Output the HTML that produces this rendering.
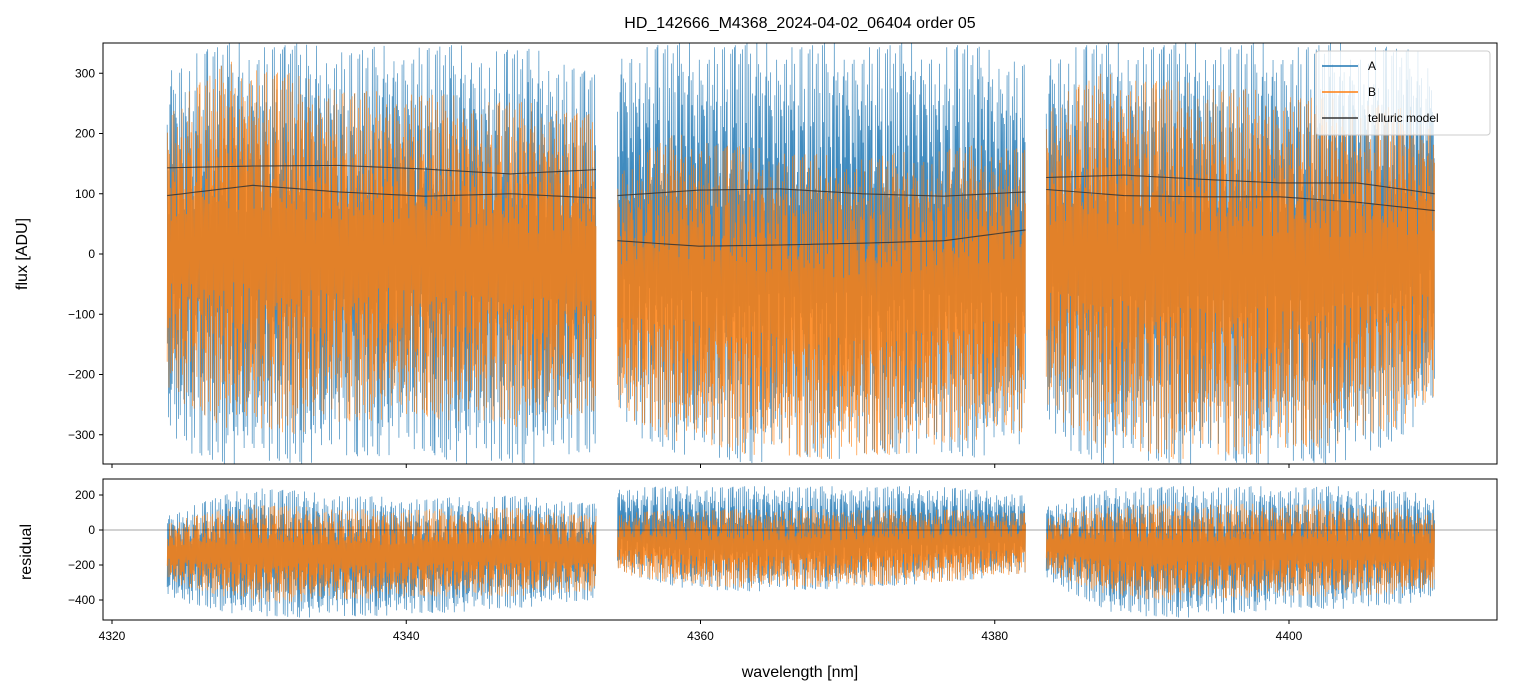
<!DOCTYPE html>
<html><head><meta charset="utf-8">
<style>
body{margin:0;background:#fff;}
svg{display:block;font-family:"Liberation Sans","DejaVu Sans",sans-serif;}
</style></head>
<body>
<svg id="chart" width="1513" height="696" viewBox="0 0 1513 696">
<rect width="1513" height="696" fill="#fff"/>
<text x="800" y="28" text-anchor="middle" font-size="16">HD_142666_M4368_2024-04-02_06404  order 05</text>
<defs>
<clipPath id="clipTop"><rect x="103" y="43" width="1394" height="421"/></clipPath>
<clipPath id="clipBot"><rect x="103" y="479" width="1394" height="141"/></clipPath>
</defs>
<g id="topPlot" clip-path="url(#clipTop)"></g>
<g id="botPlot" clip-path="url(#clipBot)"></g>
<g id="axes"></g>
<text transform="translate(27,254) rotate(-90)" text-anchor="middle" font-size="16">flux [ADU]</text>
<text transform="translate(31,552) rotate(-90)" text-anchor="middle" font-size="16">residual</text>
<text x="800" y="677" text-anchor="middle" font-size="16">wavelength [nm]</text>
<g>
<rect x="1316" y="51" width="174" height="84" rx="3" fill="#fff" fill-opacity="0.8" stroke="#ccc"/>
<line x1="1322" y1="66" x2="1358" y2="66" stroke="#1f77b4" stroke-width="1.5"/>
<text x="1368" y="70" font-size="12">A</text>
<line x1="1322" y1="92" x2="1358" y2="92" stroke="#ff7f0e" stroke-width="1.5"/>
<text x="1368" y="96" font-size="12">B</text>
<line x1="1322" y1="118" x2="1358" y2="118" stroke="#333" stroke-width="1.5"/>
<text x="1368" y="122" font-size="12">telluric model</text>
</g>
</svg>
<script>
// ---- data ----
const segStart = [4323.75, 4354.35, 4383.5];
const segEnd = [4352.9, 4382.1, 4409.9];
const aHi = [[330,350,350,340,350,345,340,300],[350,350,350,350,350,350,350,320],[350,350,350,350,350,350,350,330]];
const aLo = [[-330,-350,-350,-340,-330,-350,-350,-330],[-300,-330,-350,-340,-340,-330,-340,-320],[-320,-350,-350,-350,-350,-350,-330,-260]];
const bHi = [[250,320,300,270,270,260,250,230],[150,200,180,170,160,170,180,180],[260,300,290,280,270,260,250,230]];
const bLo = [[-240,-290,-300,-280,-270,-280,-290,-260],[-270,-310,-330,-340,-340,-330,-310,-300],[-270,-320,-340,-340,-330,-320,-300,-260]];
const tellUp = [[143,146,147,141,133,140],[97,106,108,100,96,103],[127,131,124,118,118,100]];
const tellLo = [[97,114,103,96,100,93],[22,13,15,18,22,40],[107,97,95,95,86,72]];
const rAHi = [[100,250,200,180,200,150],[250,250,250,250,250,200],[150,250,250,250,250,200]];
const rALo = [[-400,-500,-500,-480,-450,-400],[-250,-350,-350,-330,-300,-250],[-300,-500,-500,-450,-450,-400]];
const rBHi = [[50,150,120,120,130,80],[100,120,120,120,120,100],[80,150,150,150,150,100]];
const rBLo = [[-300,-420,-400,-380,-380,-350],[-250,-330,-330,-320,-300,-250],[-250,-400,-400,-380,-380,-350]];
const mod = [0.65,0.4,0.82,0.3,0.75,0.98,0.55,0.7,0.35,0.9,0.25,0.68,0.95,0.45,0.78,0.2,0.6,0.86,0.38,1.0,0.72,0.5,0.8,0.28,0.92,0.62,0.42,0.97,0.7,0.32,0.84,0.58,0.76,0.22,0.9,0.52,0.99];
const xTicks = [4320,4340,4360,4380,4400];
const yTicksTop = [300,200,100,0,-100,-200,-300];
const yTicksBot = [200,0,-200,-400];

// ---- axes ----
const X0=103,X1=1497;
const xs = w => 112 + (w-4320)*(1289-112)/80;
const yTop = v => 254 - v*0.6025;
const yBot = v => 530 - v*0.175;
const NS='http://www.w3.org/2000/svg';
function mk(tag, attrs, parent){const e=document.createElementNS(NS,tag);for(const k in attrs)e.setAttribute(k,attrs[k]);parent.appendChild(e);return e;}
function interp(arr, f){const n=arr.length-1;const p=f*n;const i=Math.min(Math.floor(p),n-1);const t=p-i;return arr[i]*(1-t)+arr[i+1]*t;}

function noisePath(s, hi, lo, ys, off){
  const x0=xs(segStart[s]), x1=xs(segEnd[s]);
  let d='', k=off;
  for(let x=x0;x<=x1;x+=0.45){
    const f=(x-x0)/(x1-x0);
    const h=interp(hi[s],f), l=interp(lo[s],f), mid=(h+l)/2;
    const j=(k*13 + Math.floor(k/9)*5) % mod.length;
    const m=mod[j];
    const v = (k%2===0) ? mid+(h-mid)*m : mid-(mid-l)*m;
    k++;
    d += (d?'L':'M')+x.toFixed(2)+','+ys(v).toFixed(1);
  }
  return d;
}
const topG=document.getElementById('topPlot'), botG=document.getElementById('botPlot');
for(let s=0;s<3;s++){
  let e=mk('path',{d:noisePath(s,aHi,aLo,yTop,0),fill:'none',stroke:'#1f77b4','stroke-width':0.7,'stroke-opacity':0.85},topG);
  
  
}
for(let s=0;s<3;s++){
  let e=mk('path',{d:noisePath(s,bHi,bLo,yTop,17),fill:'none',stroke:'#ff7f0e','stroke-width':0.7,'stroke-opacity':0.85},topG);
  
  
}
for(let s=0;s<3;s++){
  for(const c of [tellUp,tellLo]){
    const x0=xs(segStart[s]), x1=xs(segEnd[s]);let d='';
    for(let i=0;i<=60;i++){const f=i/60;d+=(i?'L':'M')+(x0+f*(x1-x0)).toFixed(1)+','+yTop(interp(c[s],f)).toFixed(1);}
    let e=mk('path',{d:d,fill:'none',stroke:'#333','stroke-width':1.1,'stroke-opacity':0.85},topG);
    
    
  }
}
for(let s=0;s<3;s++){
  let e=mk('path',{d:noisePath(s,rAHi,rALo,yBot,5),fill:'none',stroke:'#1f77b4','stroke-width':0.7,'stroke-opacity':0.85},botG);
  
  
}
for(let s=0;s<3;s++){
  let e=mk('path',{d:noisePath(s,rBHi,rBLo,yBot,23),fill:'none',stroke:'#ff7f0e','stroke-width':0.7,'stroke-opacity':0.85},botG);
  
  
}
let zl=mk('line',{x1:X0,x2:X1,y1:yBot(0),y2:yBot(0),stroke:'#000','stroke-width':0.6,'stroke-opacity':0.7},botG);



const ax=document.getElementById('axes');
let f1=mk('rect',{x:X0,y:43,width:X1-X0,height:421,fill:'none',stroke:'#000','stroke-width':1},ax);


let f2=mk('rect',{x:X0,y:479,width:X1-X0,height:141,fill:'none',stroke:'#000','stroke-width':1},ax);


for(const t of xTicks){
  const x=xs(t);
  let a=mk('line',{x1:x,x2:x,y1:464,y2:468,stroke:'#000'},ax);
  
  
  let b=mk('line',{x1:x,x2:x,y1:620,y2:624,stroke:'#000'},ax);
  
  
  let l=mk('text',{x:x,y:640,'text-anchor':'middle','font-size':12},ax);l.textContent=t;
  
  
}
for(const t of yTicksTop){
  const y=yTop(t);
  let a=mk('line',{x1:99,x2:103,y1:y,y2:y,stroke:'#000'},ax);
  
  
  let l=mk('text',{x:95,y:y+4,'text-anchor':'end','font-size':12},ax);l.textContent=t<0?'\u2212'+(-t):t;
  
  
}
for(const t of yTicksBot){
  const y=yBot(t);
  let a=mk('line',{x1:99,x2:103,y1:y,y2:y,stroke:'#000'},ax);
  
  
  let l=mk('text',{x:95,y:y+4,'text-anchor':'end','font-size':12},ax);l.textContent=t<0?'\u2212'+(-t):t;
  
  
}
</script>
</body></html>
